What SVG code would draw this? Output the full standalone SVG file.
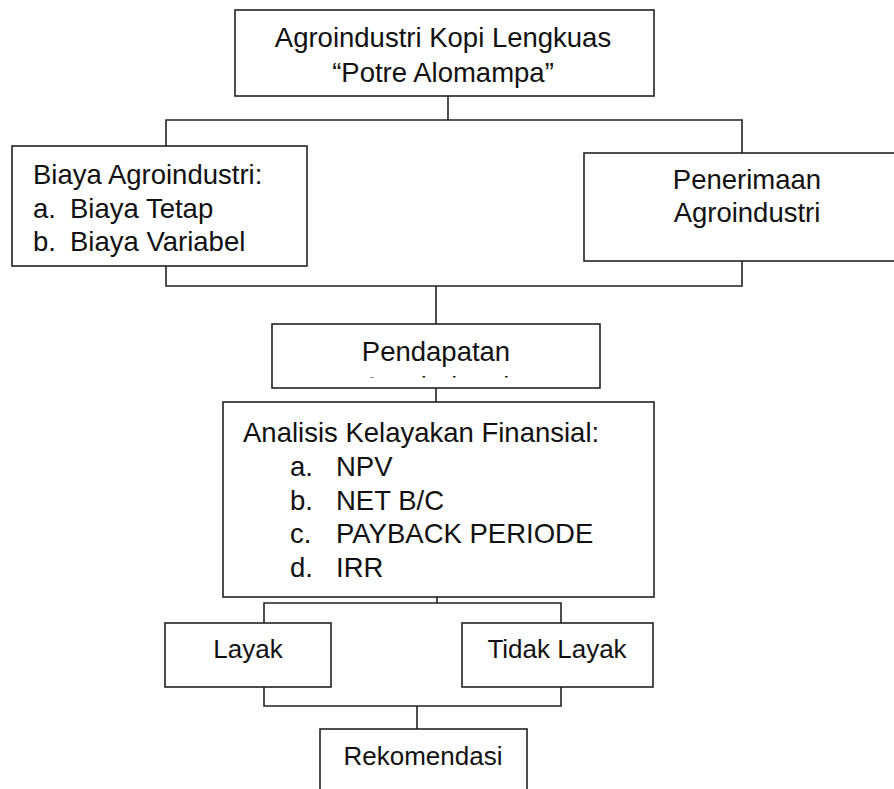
<svg xmlns="http://www.w3.org/2000/svg" width="894" height="789" viewBox="0 0 894 789">
<style>
.box{fill:#fff;stroke:#222;stroke-width:1.6}
.ln{fill:none;stroke:#222;stroke-width:1.6}
text{font-family:"Liberation Sans",Arial,sans-serif;font-size:27.5px;fill:#111}
.s{font-size:26px}
.m{text-anchor:middle}
</style>
<defs>
<clipPath id="pclip"><rect x="272" y="324" width="328" height="53.5"/></clipPath>
</defs>
<rect width="894" height="789" fill="#fff"/>
<g id="connectors">
<polyline class="ln" points="448,96 448,120"/>
<polyline class="ln" points="166,146 166,120 742,120 742,153"/>
<polyline class="ln" points="166,260 166,286 742,286 742,255"/>
<polyline class="ln" points="436,286 436,324"/>
<polyline class="ln" points="436,388 436,402"/>
<polyline class="ln" points="437,582 437,603"/>
<polyline class="ln" points="264,623 264,603 561,603 561,623"/>
<polyline class="ln" points="264,684 264,706 561,706 561,684"/>
<polyline class="ln" points="417,706 417,729"/>
</g>
<g id="top">
<rect class="box" x="235" y="10" width="419" height="86"/>
<text class="m" x="443" y="47">Agroindustri Kopi Lengkuas</text>
<text class="m" x="443" y="82">“Potre Alomampa”</text>
</g>
<g id="biaya">
<rect class="box" x="12" y="146" width="295" height="120"/>
<text x="33" y="184">Biaya Agroindustri:</text>
<text x="33" y="218">a.</text><text x="70" y="218">Biaya Tetap</text>
<text x="33" y="251">b.</text><text x="70" y="251">Biaya Variabel</text>
</g>
<g id="penerimaan">
<rect class="box" x="584" y="153" width="320" height="108"/>
<text class="m" x="747" y="189">Penerimaan</text>
<text class="m" x="747" y="222">Agroindustri</text>
</g>
<g id="pendapatan">
<rect class="box" x="272" y="324" width="328" height="64"/>
<text class="m" x="436" y="361">Pendapatan</text>
<text class="m" x="436" y="396" clip-path="url(#pclip)">Agroindustri</text>
</g>
<g id="analisis">
<rect class="box" x="223" y="402" width="431" height="195"/>
<text x="243" y="442">Analisis Kelayakan Finansial:</text>
<text x="290" y="476">a.</text><text x="336" y="476">NPV</text>
<text x="290" y="510">b.</text><text x="336" y="510">NET B/C</text>
<text x="290" y="543">c.</text><text x="336" y="543">PAYBACK PERIODE</text>
<text x="290" y="577">d.</text><text x="336" y="577">IRR</text>
</g>
<g id="layak">
<rect class="box" x="165" y="623" width="166" height="64"/>
<text class="m s" x="248" y="658">Layak</text>
</g>
<g id="tidak-layak">
<rect class="box" x="462" y="623" width="191" height="64"/>
<text class="m s" x="557" y="658">Tidak Layak</text>
</g>
<g id="rekomendasi">
<rect class="box" x="320" y="729" width="207" height="80"/>
<text class="m s" x="423" y="765">Rekomendasi</text>
</g>
</svg>
